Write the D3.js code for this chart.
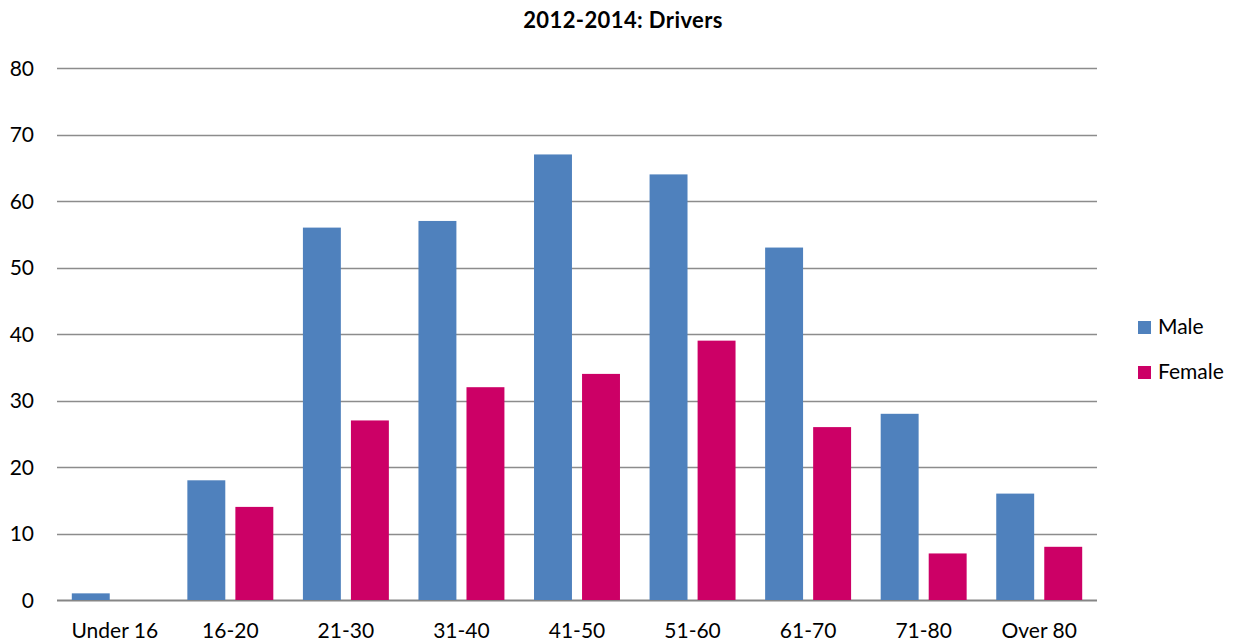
<!DOCTYPE html>
<html>
<head>
<meta charset="utf-8">
<script src="https://cdn.jsdelivr.net/npm/d3@7"></script>
<style>
  body { margin: 0; background: #fff; }
  svg text { font-family: Lato, "Open Sans", sans-serif; fill: #000; }
</style>
</head>
<body>
<svg id="chart" width="1240" height="644"></svg>
<script>
var categories = ["Under 16", "16-20", "21-30", "31-40", "41-50", "51-60", "61-70", "71-80", "Over 80"];
var seriesNames = ["Male", "Female"];
var maleValues = [1, 18, 56, 57, 67, 64, 53, 28, 16];
var femaleValues = [0, 14, 27, 32, 34, 39, 26, 7, 8];
var yTicks = [0, 10, 20, 30, 40, 50, 60, 70, 80];
var colors = ["#4f81bd", "#cc0066"];

var svg = d3.select("#chart");
var plotLeft = 57, plotRight = 1097, plotTop = 68, plotBottom = 600;

var rows = categories.map(function(c, i) {
  return { cat: c, values: [maleValues[i], femaleValues[i]] };
});

var x = d3.scaleBand().domain(categories).range([plotLeft, plotRight]).paddingInner(0).paddingOuter(0);
var x1 = d3.scaleBand().domain(seriesNames).range([14.8, x.bandwidth() - 14.8]).paddingInner(0.21).paddingOuter(0);
var y = d3.scaleLinear().domain([0, 80]).range([plotBottom, plotTop]);

// gridlines
svg.append("g")
  .selectAll("line")
  .data(yTicks)
  .enter()
  .append("line")
  .attr("x1", plotLeft)
  .attr("x2", plotRight)
  .attr("y1", function(d) { return Math.round(y(d)) + 0.5; })
  .attr("y2", function(d) { return Math.round(y(d)) + 0.5; })
  .attr("stroke", function(d) { return d === 0 ? "#868686" : "#8c8c8c"; })
  .attr("stroke-width", function(d) { return d === 0 ? 2 : 1.3; });

// y labels
svg.append("g")
  .selectAll("text")
  .data(yTicks)
  .enter()
  .append("text")
  .attr("x", 34)
  .attr("y", function(d) { return y(d); })
  .attr("dy", "0.36em")
  .attr("text-anchor", "end")
  .style("font-size", "21px")
  .text(function(d) { return d; });

// bars
var groups = svg.append("g")
  .selectAll("g")
  .data(rows)
  .enter()
  .append("g")
  .attr("transform", function(d) { return "translate(" + x(d.cat) + ",0)"; });

groups.selectAll("rect")
  .data(function(d) { return d.values; })
  .enter()
  .append("rect")
  .attr("x", function(d, i) { return x1(seriesNames[i]); })
  .attr("width", x1.bandwidth())
  .attr("y", function(d) { return y(d); })
  .attr("height", function(d) { return y(0) - y(d); })
  .attr("fill", function(d, i) { return colors[i]; });

// x labels
svg.append("g")
  .selectAll("text")
  .data(categories)
  .enter()
  .append("text")
  .attr("x", function(d) { return x(d) + x.bandwidth() / 2; })
  .attr("y", 638)
  .attr("text-anchor", "middle")
  .style("font-size", "21px")
  .text(function(d) { return d; });

// title
svg.append("text")
  .attr("x", 623)
  .attr("y", 28)
  .attr("text-anchor", "middle")
  .style("font-size", "22px")
  .style("font-weight", "bold")
  .style("letter-spacing", "0.4px")
  .text("2012-2014: Drivers");

// legend
var legend = svg.append("g")
  .selectAll("g")
  .data(seriesNames)
  .enter()
  .append("g")
  .attr("transform", function(d, i) { return "translate(1138," + (321 + i * 45) + ")"; });
legend.append("rect")
  .attr("width", 13)
  .attr("height", 13)
  .attr("fill", function(d, i) { return colors[i]; });
legend.append("text")
  .attr("x", 20)
  .attr("y", 13)
  .style("font-size", "21px")
  .text(function(d) { return d; });
</script>
</body>
</html>
